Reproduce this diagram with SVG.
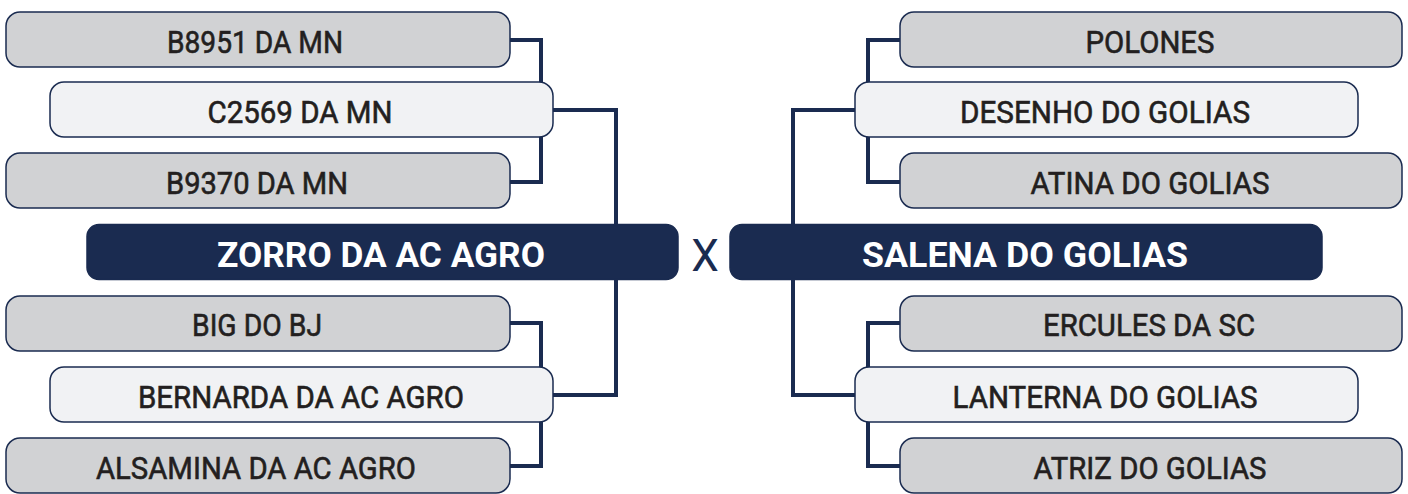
<svg xmlns="http://www.w3.org/2000/svg" width="1408" height="494" viewBox="0 0 1408 494">
<style>
.conn{fill:none;stroke:#1a2b50;stroke-width:4;stroke-linejoin:miter}
.outer{fill:#d1d2d4;stroke:#1a2b50;stroke-width:1.5}
.mid{fill:#f1f2f4;stroke:#1a2b50;stroke-width:1.5}
.main{fill:#1a2b50;stroke:#1a2b50;stroke-width:1.5}
.t{font-family:Roboto,"Liberation Sans",sans-serif;font-size:32px;font-weight:normal;fill:#231f20;stroke:#231f20;stroke-width:0.6;text-anchor:middle}
.tm{font-family:Roboto,"Liberation Sans",sans-serif;font-size:35px;font-weight:bold;fill:#ffffff;text-anchor:middle}
.x{font-family:Roboto,"Liberation Sans",sans-serif;font-size:44px;fill:#1a2b50;text-anchor:middle}
</style>
<rect width="1408" height="494" fill="#ffffff"/>
<g id="connectors">
<path class="conn" d="M510,40 H541 V182 H510"/>
<path class="conn" d="M553,110 H616 V395 H553"/>
<path class="conn" d="M510,323 H541 V466 H510"/>
<path class="conn" d="M900,40 H868 V182 H900"/>
<path class="conn" d="M855,110 H793 V395 H855"/>
<path class="conn" d="M900,323 H868 V466 H900"/>
</g>
<g id="n-b8951"><rect class="outer" x="6" y="12" width="504" height="55" rx="14"/><text class="t" x="255" y="52.5" textLength="176" lengthAdjust="spacingAndGlyphs">B8951 DA MN</text></g>
<g id="n-c2569"><rect class="mid" x="50" y="82" width="503" height="55" rx="14"/><text class="t" x="300" y="122.5" textLength="185" lengthAdjust="spacingAndGlyphs">C2569 DA MN</text></g>
<g id="n-b9370"><rect class="outer" x="6" y="153" width="504" height="55" rx="14"/><text class="t" x="257" y="193.5" textLength="182" lengthAdjust="spacingAndGlyphs">B9370 DA MN</text></g>
<g id="n-zorro"><rect class="main" x="87" y="224.5" width="591" height="55" rx="12"/><text class="tm" x="381" y="267" textLength="328" lengthAdjust="spacingAndGlyphs">ZORRO DA AC AGRO</text></g>
<g id="n-big"><rect class="outer" x="6" y="296" width="504" height="55" rx="14"/><text class="t" x="257" y="335.5" textLength="130" lengthAdjust="spacingAndGlyphs">BIG DO BJ</text></g>
<g id="n-bernarda"><rect class="mid" x="50" y="367" width="503" height="55" rx="14"/><text class="t" x="301" y="407.5" textLength="326" lengthAdjust="spacingAndGlyphs">BERNARDA DA AC AGRO</text></g>
<g id="n-alsamina"><rect class="outer" x="6" y="438" width="504" height="55" rx="14"/><text class="t" x="256" y="478.5" textLength="320" lengthAdjust="spacingAndGlyphs">ALSAMINA DA AC AGRO</text></g>
<g id="vs"><text class="x" x="705" y="271">X</text></g>
<g id="n-polones"><rect class="outer" x="900" y="12" width="502" height="55" rx="14"/><text class="t" x="1150" y="52.5" textLength="129" lengthAdjust="spacingAndGlyphs">POLONES</text></g>
<g id="n-desenho"><rect class="mid" x="855" y="82" width="503" height="55" rx="14"/><text class="t" x="1105" y="122.5" textLength="290" lengthAdjust="spacingAndGlyphs">DESENHO DO GOLIAS</text></g>
<g id="n-atina"><rect class="outer" x="900" y="153" width="502" height="55" rx="14"/><text class="t" x="1150" y="193.5" textLength="239" lengthAdjust="spacingAndGlyphs">ATINA DO GOLIAS</text></g>
<g id="n-salena"><rect class="main" x="730" y="224.5" width="592" height="55" rx="12"/><text class="tm" x="1025" y="267" textLength="326" lengthAdjust="spacingAndGlyphs">SALENA DO GOLIAS</text></g>
<g id="n-ercules"><rect class="outer" x="900" y="296" width="502" height="55" rx="14"/><text class="t" x="1149" y="335.5" textLength="212" lengthAdjust="spacingAndGlyphs">ERCULES DA SC</text></g>
<g id="n-lanterna"><rect class="mid" x="855" y="367" width="503" height="55" rx="14"/><text class="t" x="1105" y="407.5" textLength="305" lengthAdjust="spacingAndGlyphs">LANTERNA DO GOLIAS</text></g>
<g id="n-atriz"><rect class="outer" x="900" y="438" width="502" height="55" rx="14"/><text class="t" x="1150" y="478.5" textLength="233" lengthAdjust="spacingAndGlyphs">ATRIZ DO GOLIAS</text></g>
</svg>
